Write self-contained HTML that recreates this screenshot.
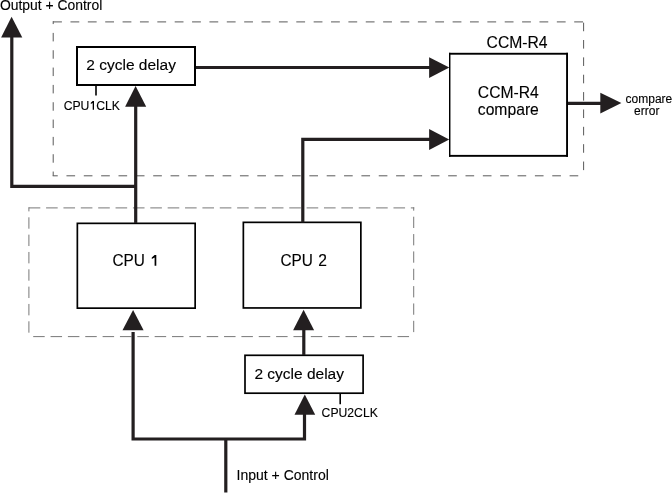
<!DOCTYPE html>
<html>
<head>
<meta charset="utf-8">
<style>
html,body{margin:0;padding:0;background:#fff;}
body{width:672px;height:493px;overflow:hidden;}
svg{display:block;will-change:transform;}
text{font-family:"Liberation Sans",sans-serif;fill:#000;stroke:#000;stroke-width:0.12;}
</style>
</head>
<body>
<svg width="672" height="493" viewBox="0 0 672 493">
<rect x="0" y="0" width="672" height="493" fill="#fff"/>
<g>
<rect x="53.10" y="21.40" width="8.80" height="1.0" fill="#5a5a5a"/>
<rect x="70.47" y="21.40" width="8.80" height="1.0" fill="#5a5a5a"/>
<rect x="87.84" y="21.40" width="8.80" height="1.0" fill="#5a5a5a"/>
<rect x="105.21" y="21.40" width="8.80" height="1.0" fill="#5a5a5a"/>
<rect x="122.58" y="21.40" width="8.80" height="1.0" fill="#5a5a5a"/>
<rect x="139.95" y="21.40" width="8.80" height="1.0" fill="#5a5a5a"/>
<rect x="157.32" y="21.40" width="8.80" height="1.0" fill="#5a5a5a"/>
<rect x="174.69" y="21.40" width="8.80" height="1.0" fill="#5a5a5a"/>
<rect x="192.06" y="21.40" width="8.80" height="1.0" fill="#5a5a5a"/>
<rect x="209.43" y="21.40" width="8.80" height="1.0" fill="#5a5a5a"/>
<rect x="226.80" y="21.40" width="8.80" height="1.0" fill="#5a5a5a"/>
<rect x="244.17" y="21.40" width="8.80" height="1.0" fill="#5a5a5a"/>
<rect x="261.54" y="21.40" width="8.80" height="1.0" fill="#5a5a5a"/>
<rect x="278.91" y="21.40" width="8.80" height="1.0" fill="#5a5a5a"/>
<rect x="296.28" y="21.40" width="8.80" height="1.0" fill="#5a5a5a"/>
<rect x="313.65" y="21.40" width="8.80" height="1.0" fill="#5a5a5a"/>
<rect x="331.02" y="21.40" width="8.80" height="1.0" fill="#5a5a5a"/>
<rect x="348.39" y="21.40" width="8.80" height="1.0" fill="#5a5a5a"/>
<rect x="365.76" y="21.40" width="8.80" height="1.0" fill="#5a5a5a"/>
<rect x="383.13" y="21.40" width="8.80" height="1.0" fill="#5a5a5a"/>
<rect x="400.50" y="21.40" width="8.80" height="1.0" fill="#5a5a5a"/>
<rect x="417.87" y="21.40" width="8.80" height="1.0" fill="#5a5a5a"/>
<rect x="435.24" y="21.40" width="8.80" height="1.0" fill="#5a5a5a"/>
<rect x="452.61" y="21.40" width="8.80" height="1.0" fill="#5a5a5a"/>
<rect x="469.98" y="21.40" width="8.80" height="1.0" fill="#5a5a5a"/>
<rect x="487.35" y="21.40" width="8.80" height="1.0" fill="#5a5a5a"/>
<rect x="504.72" y="21.40" width="8.80" height="1.0" fill="#5a5a5a"/>
<rect x="522.09" y="21.40" width="8.80" height="1.0" fill="#5a5a5a"/>
<rect x="539.46" y="21.40" width="8.80" height="1.0" fill="#5a5a5a"/>
<rect x="556.83" y="21.40" width="8.80" height="1.0" fill="#5a5a5a"/>
<rect x="574.20" y="21.40" width="8.80" height="1.0" fill="#5a5a5a"/>
<rect x="52.70" y="21.20" width="1.0" height="2.87" fill="#5a5a5a"/>
<rect x="52.70" y="32.90" width="1.0" height="8.50" fill="#5a5a5a"/>
<rect x="52.70" y="50.23" width="1.0" height="8.50" fill="#5a5a5a"/>
<rect x="52.70" y="67.56" width="1.0" height="8.50" fill="#5a5a5a"/>
<rect x="52.70" y="84.89" width="1.0" height="8.50" fill="#5a5a5a"/>
<rect x="52.70" y="102.22" width="1.0" height="8.50" fill="#5a5a5a"/>
<rect x="52.70" y="119.55" width="1.0" height="8.50" fill="#5a5a5a"/>
<rect x="52.70" y="136.88" width="1.0" height="8.50" fill="#5a5a5a"/>
<rect x="52.70" y="154.21" width="1.0" height="8.50" fill="#5a5a5a"/>
<rect x="52.70" y="171.54" width="1.0" height="4.26" fill="#5a5a5a"/>
<rect x="583.10" y="22.64" width="1.0" height="8.60" fill="#5a5a5a"/>
<rect x="583.10" y="40.00" width="1.0" height="8.60" fill="#5a5a5a"/>
<rect x="583.10" y="57.36" width="1.0" height="8.60" fill="#5a5a5a"/>
<rect x="583.10" y="74.72" width="1.0" height="8.60" fill="#5a5a5a"/>
<rect x="583.10" y="92.08" width="1.0" height="8.60" fill="#5a5a5a"/>
<rect x="583.10" y="109.44" width="1.0" height="8.60" fill="#5a5a5a"/>
<rect x="583.10" y="126.80" width="1.0" height="8.60" fill="#5a5a5a"/>
<rect x="583.10" y="144.16" width="1.0" height="8.60" fill="#5a5a5a"/>
<rect x="583.10" y="161.52" width="1.0" height="8.60" fill="#5a5a5a"/>
<rect x="52.70" y="175.30" width="5.05" height="1.0" fill="#5a5a5a"/>
<rect x="66.45" y="175.30" width="8.65" height="1.0" fill="#5a5a5a"/>
<rect x="83.80" y="175.30" width="8.65" height="1.0" fill="#5a5a5a"/>
<rect x="101.15" y="175.30" width="8.65" height="1.0" fill="#5a5a5a"/>
<rect x="118.50" y="175.30" width="8.65" height="1.0" fill="#5a5a5a"/>
<rect x="135.85" y="175.30" width="8.65" height="1.0" fill="#5a5a5a"/>
<rect x="153.20" y="175.30" width="8.65" height="1.0" fill="#5a5a5a"/>
<rect x="170.55" y="175.30" width="8.65" height="1.0" fill="#5a5a5a"/>
<rect x="187.90" y="175.30" width="8.65" height="1.0" fill="#5a5a5a"/>
<rect x="205.25" y="175.30" width="8.65" height="1.0" fill="#5a5a5a"/>
<rect x="222.60" y="175.30" width="8.65" height="1.0" fill="#5a5a5a"/>
<rect x="239.95" y="175.30" width="8.65" height="1.0" fill="#5a5a5a"/>
<rect x="257.30" y="175.30" width="8.65" height="1.0" fill="#5a5a5a"/>
<rect x="274.65" y="175.30" width="8.65" height="1.0" fill="#5a5a5a"/>
<rect x="292.00" y="175.30" width="8.65" height="1.0" fill="#5a5a5a"/>
<rect x="309.35" y="175.30" width="8.65" height="1.0" fill="#5a5a5a"/>
<rect x="326.70" y="175.30" width="8.65" height="1.0" fill="#5a5a5a"/>
<rect x="344.05" y="175.30" width="8.65" height="1.0" fill="#5a5a5a"/>
<rect x="361.40" y="175.30" width="8.65" height="1.0" fill="#5a5a5a"/>
<rect x="378.75" y="175.30" width="8.65" height="1.0" fill="#5a5a5a"/>
<rect x="396.10" y="175.30" width="8.65" height="1.0" fill="#5a5a5a"/>
<rect x="413.45" y="175.30" width="8.65" height="1.0" fill="#5a5a5a"/>
<rect x="430.80" y="175.30" width="8.65" height="1.0" fill="#5a5a5a"/>
<rect x="448.15" y="175.30" width="8.65" height="1.0" fill="#5a5a5a"/>
<rect x="465.50" y="175.30" width="8.65" height="1.0" fill="#5a5a5a"/>
<rect x="482.85" y="175.30" width="8.65" height="1.0" fill="#5a5a5a"/>
<rect x="500.20" y="175.30" width="8.65" height="1.0" fill="#5a5a5a"/>
<rect x="517.55" y="175.30" width="8.65" height="1.0" fill="#5a5a5a"/>
<rect x="534.90" y="175.30" width="8.65" height="1.0" fill="#5a5a5a"/>
<rect x="552.25" y="175.30" width="8.65" height="1.0" fill="#5a5a5a"/>
<rect x="569.60" y="175.30" width="8.65" height="1.0" fill="#5a5a5a"/>
<rect x="28.70" y="207.40" width="11.60" height="1.0" fill="#787878"/>
<rect x="46.07" y="207.40" width="11.60" height="1.0" fill="#787878"/>
<rect x="63.44" y="207.40" width="11.60" height="1.0" fill="#787878"/>
<rect x="80.81" y="207.40" width="11.60" height="1.0" fill="#787878"/>
<rect x="98.18" y="207.40" width="11.60" height="1.0" fill="#787878"/>
<rect x="115.55" y="207.40" width="11.60" height="1.0" fill="#787878"/>
<rect x="132.92" y="207.40" width="11.60" height="1.0" fill="#787878"/>
<rect x="150.29" y="207.40" width="11.60" height="1.0" fill="#787878"/>
<rect x="167.66" y="207.40" width="11.60" height="1.0" fill="#787878"/>
<rect x="185.03" y="207.40" width="11.60" height="1.0" fill="#787878"/>
<rect x="202.40" y="207.40" width="11.60" height="1.0" fill="#787878"/>
<rect x="219.77" y="207.40" width="11.60" height="1.0" fill="#787878"/>
<rect x="237.14" y="207.40" width="11.60" height="1.0" fill="#787878"/>
<rect x="254.51" y="207.40" width="11.60" height="1.0" fill="#787878"/>
<rect x="271.88" y="207.40" width="11.60" height="1.0" fill="#787878"/>
<rect x="289.25" y="207.40" width="11.60" height="1.0" fill="#787878"/>
<rect x="306.62" y="207.40" width="11.60" height="1.0" fill="#787878"/>
<rect x="323.99" y="207.40" width="11.60" height="1.0" fill="#787878"/>
<rect x="341.36" y="207.40" width="11.60" height="1.0" fill="#787878"/>
<rect x="358.73" y="207.40" width="11.60" height="1.0" fill="#787878"/>
<rect x="376.10" y="207.40" width="11.60" height="1.0" fill="#787878"/>
<rect x="393.47" y="207.40" width="11.60" height="1.0" fill="#787878"/>
<rect x="410.84" y="207.40" width="3.36" height="1.0" fill="#787878"/>
<rect x="28.40" y="207.30" width="1.0" height="4.07" fill="#787878"/>
<rect x="28.40" y="217.30" width="1.0" height="11.40" fill="#787878"/>
<rect x="28.40" y="234.63" width="1.0" height="11.40" fill="#787878"/>
<rect x="28.40" y="251.96" width="1.0" height="11.40" fill="#787878"/>
<rect x="28.40" y="269.29" width="1.0" height="11.40" fill="#787878"/>
<rect x="28.40" y="286.62" width="1.0" height="11.40" fill="#787878"/>
<rect x="28.40" y="303.95" width="1.0" height="11.40" fill="#787878"/>
<rect x="28.40" y="321.28" width="1.0" height="11.40" fill="#787878"/>
<rect x="413.20" y="207.30" width="1.0" height="3.35" fill="#787878"/>
<rect x="413.20" y="216.70" width="1.0" height="11.30" fill="#787878"/>
<rect x="413.20" y="234.05" width="1.0" height="11.30" fill="#787878"/>
<rect x="413.20" y="251.40" width="1.0" height="11.30" fill="#787878"/>
<rect x="413.20" y="268.75" width="1.0" height="11.30" fill="#787878"/>
<rect x="413.20" y="286.10" width="1.0" height="11.30" fill="#787878"/>
<rect x="413.20" y="303.45" width="1.0" height="11.30" fill="#787878"/>
<rect x="413.20" y="320.80" width="1.0" height="11.30" fill="#787878"/>
<rect x="33.20" y="336.10" width="11.50" height="1.0" fill="#787878"/>
<rect x="50.55" y="336.10" width="11.50" height="1.0" fill="#787878"/>
<rect x="67.90" y="336.10" width="11.50" height="1.0" fill="#787878"/>
<rect x="85.25" y="336.10" width="11.50" height="1.0" fill="#787878"/>
<rect x="102.60" y="336.10" width="11.50" height="1.0" fill="#787878"/>
<rect x="119.95" y="336.10" width="11.50" height="1.0" fill="#787878"/>
<rect x="137.30" y="336.10" width="11.50" height="1.0" fill="#787878"/>
<rect x="154.65" y="336.10" width="11.50" height="1.0" fill="#787878"/>
<rect x="172.00" y="336.10" width="11.50" height="1.0" fill="#787878"/>
<rect x="189.35" y="336.10" width="11.50" height="1.0" fill="#787878"/>
<rect x="206.70" y="336.10" width="11.50" height="1.0" fill="#787878"/>
<rect x="224.05" y="336.10" width="11.50" height="1.0" fill="#787878"/>
<rect x="241.40" y="336.10" width="11.50" height="1.0" fill="#787878"/>
<rect x="258.75" y="336.10" width="11.50" height="1.0" fill="#787878"/>
<rect x="276.10" y="336.10" width="11.50" height="1.0" fill="#787878"/>
<rect x="293.45" y="336.10" width="11.50" height="1.0" fill="#787878"/>
<rect x="310.80" y="336.10" width="11.50" height="1.0" fill="#787878"/>
<rect x="328.15" y="336.10" width="11.50" height="1.0" fill="#787878"/>
<rect x="345.50" y="336.10" width="11.50" height="1.0" fill="#787878"/>
<rect x="362.85" y="336.10" width="11.50" height="1.0" fill="#787878"/>
<rect x="380.20" y="336.10" width="11.50" height="1.0" fill="#787878"/>
<rect x="397.55" y="336.10" width="11.50" height="1.0" fill="#787878"/>
</g>
<g fill="none" stroke="#000">
<rect x="77" y="47" width="118" height="38" stroke-width="2"/>

<rect x="77.35" y="223.35" width="117.8" height="84.8" stroke-width="1.7"/>
<rect x="243.35" y="222.35" width="117.5" height="85.6" stroke-width="1.7"/>
<rect x="245" y="355.3" width="118.1" height="37.9" stroke-width="1.7"/>
<line x1="96" y1="85" x2="96" y2="95.6" stroke-width="1.6"/>
<line x1="340.2" y1="393" x2="340.2" y2="404.2" stroke-width="1.6"/>
</g>
<g fill="none" stroke="#231f20" stroke-width="3.2" stroke-linejoin="miter" stroke-linecap="butt">
<path d="M11.8 36 V186.4 H135.7"/>
<path d="M135.7 223 V105"/>
<path d="M196 67.5 H431"/>
<path d="M302.8 222.5 V139.4 H431"/>
<path d="M567 103.3 H602"/>
<path d="M133.1 332 V439 H304.5 V413"/>
<path d="M303.8 355 V328"/>
<path d="M225.8 439 V492.5"/>
</g>
<g fill="#000"><rect x="449" y="52.8" width="1.45" height="104"/><rect x="449" y="52.8" width="119" height="1.9"/><rect x="566.1" y="52.8" width="1.9" height="104"/><rect x="449" y="154.9" width="119" height="1.9"/></g>
<g fill="#231f20">
<polygon points="11.6,16.7 22.3,37.5 1.1,37.5"/>
<polygon points="135.6,86 146.2,106.8 125.1,106.8"/>
<polygon points="449.3,67.6 429.1,57.2 429.1,78"/>
<polygon points="449.2,139.5 429.1,129.1 429.1,150"/>
<polygon points="621.4,103.1 600.3,92.8 600.3,113.4"/>
<polygon points="133.1,310 143.6,330.2 122.5,330.2"/>
<polygon points="303.6,309.7 314.1,330.2 293.1,330.2"/>
<polygon points="304.8,394.4 315.2,414.7 294.5,414.7"/>
</g>
<text x="-0.1" y="9.8" font-size="13.9">Output + Control</text>
<text x="86.3" y="70.1" font-size="15.5">2 cycle delay</text>
<text x="63.7" y="109.7" font-size="12.2">CPU</text>
<path d="M92.7 101.0 L94.0 101.0 L94.0 109.8 L92.7 109.8 L92.7 102.9 L90.8 104.0 L90.8 102.7 Z" fill="#000"/>
<text x="96.2" y="109.7" font-size="12.2">CLK</text>
<text x="486.6" y="47.9" font-size="15.7">CCM-R4</text>
<text x="477.8" y="98.0" font-size="15.7">CCM-R4</text>
<text x="477.8" y="114.6" font-size="15.7">compare</text>
<text x="625.6" y="102.9" font-size="12">compare</text>
<text x="634.1" y="114.8" font-size="12">error</text>
<text transform="translate(112.4,265.8) scale(0.95,1)" font-size="16.2">CPU</text>
<path d="M154.6 255.0 L156.3 255.0 L156.3 265.7 L154.6 265.7 L154.6 257.6 L151.8 259.0 L151.8 257.4 Z" fill="#000"/>
<text transform="translate(280.5,265.9) scale(0.95,1)" font-size="16.2">CPU</text>
<text transform="translate(318.3,265.9) scale(0.963,1)" font-size="16.2">2</text>
<text x="254.4" y="378.5" font-size="15.5">2 cycle delay</text>
<text x="321.6" y="416.6" font-size="12.2">CPU2CLK</text>
<text x="236.6" y="480.1" font-size="14">Input + Control</text>
</svg>
</body>
</html>
